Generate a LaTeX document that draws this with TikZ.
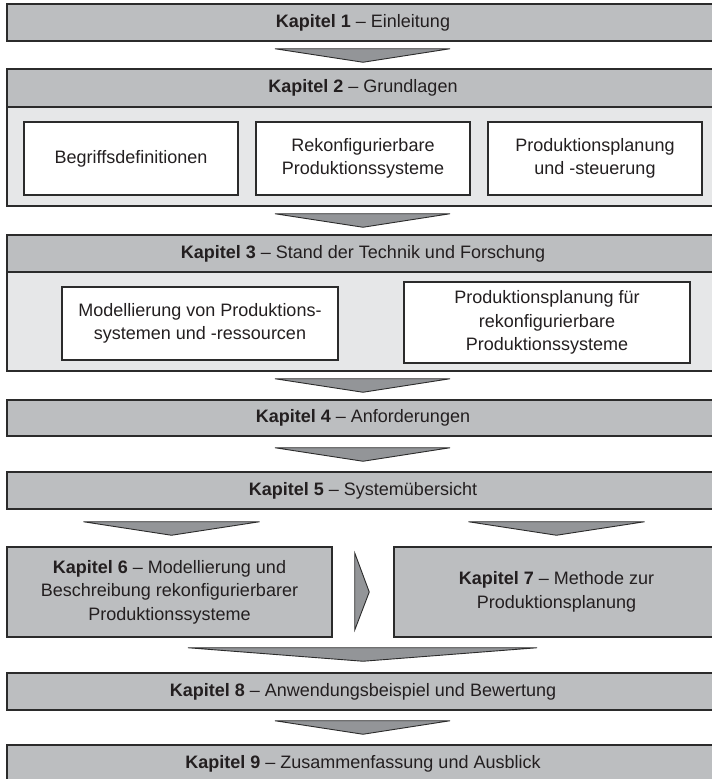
\documentclass[tikz,border=0pt]{standalone}
\usepackage{fontspec}
\setmainfont{Liberation Sans}
\usetikzlibrary{calc}

\definecolor{kopfgrau}{HTML}{BCBEC0}
\definecolor{feldgrau}{HTML}{E6E7E8}
\definecolor{pfeilgrau}{HTML}{939598}
\definecolor{linie}{HTML}{2B2B2B}
\definecolor{schrift}{HTML}{231F20}

\begin{document}
\begin{tikzpicture}[x=1pt, y=-1pt, text=schrift,
    font=\fontsize{18}{23.5}\selectfont,
    kapitel/.style={draw=linie, line width=1.5pt, fill=kopfgrau, minimum width=712pt,
        minimum height=37pt, inner sep=0pt, align=center},
    feld/.style={draw=linie, line width=1.5pt, fill=feldgrau, minimum width=712pt, inner sep=0pt},
    inhalt/.style={draw=linie, line width=1.5pt, fill=white, inner sep=0pt, align=center},
    pfeil/.style={draw=linie, line width=0.9pt, fill=pfeilgrau, line join=miter}]

    % Rand: 712 x 779 (1pt = 1px)
    \useasboundingbox (0,0) rectangle (712,779);

    % Kapitel 1
    \node[kapitel] (k1) at (363,22.5) {\textbf{Kapitel 1} – Einleitung};

    % Kapitel 2 mit Feld
    \node[feld, minimum height=137pt] (f2) at (363,137.5) {};
    \node[kapitel, minimum height=38pt] (k2) at (363,88) {\textbf{Kapitel 2} – Grundlagen};
    \node[inhalt, minimum width=214pt, minimum height=73pt] (begriffe) at (131,158.5)
        {Begriffsdefinitionen};
    \node[inhalt, minimum width=214pt, minimum height=73pt] (rps) at (363,158.5)
        {Rekonfigurierbare\\Produktionssysteme};
    \node[inhalt, minimum width=214pt, minimum height=73pt] (pps) at (595,158.5)
        {Produktionsplanung\\und -steuerung};

    % Kapitel 3 mit Feld
    \node[feld, minimum height=136pt] (f3) at (363,303) {};
    \node[kapitel] (k3) at (363,253.5) {\textbf{Kapitel 3} – Stand der Technik und Forschung};
    \node[inhalt, minimum width=276pt, minimum height=73pt] (modell) at (200,323.5)
        {Modellierung von Produktions-\\systemen und -ressourcen};
    \node[inhalt, minimum width=286pt, minimum height=81pt] (planung) at (547,322.5)
        {Produktionsplanung für\\rekonfigurierbare\\Produktionssysteme};

    % Kapitel 4 und 5
    \node[kapitel, minimum height=36pt] (k4) at (363,418) {\textbf{Kapitel 4} – Anforderungen};
    \node[kapitel] (k5) at (363,490.5) {\textbf{Kapitel 5} – Systemübersicht};

    % Kapitel 6 und 7 nebeneinander
    \node[kapitel, minimum width=325pt, minimum height=90pt] (k6) at (169.5,592)
        {\textbf{Kapitel 6} – Modellierung und\\Beschreibung rekonfigurierbarer\\Produktionssysteme};
    \node[kapitel, minimum width=325pt, minimum height=90pt] (k7) at (556.5,592)
        {\textbf{Kapitel 7} – Methode zur\\Produktionsplanung};

    % Kapitel 8 und 9
    \node[kapitel] (k8) at (363,691.5) {\textbf{Kapitel 8} – Anwendungsbeispiel und Bewertung};
    \node[kapitel, minimum height=38pt] (k9) at (363,764) {\textbf{Kapitel 9} – Zusammenfassung und Ausblick};

    % Pfeile
    \draw[pfeil] ($(k1.south)+(-88,7)$) -- ($(k1.south)+(87,7)$) -- ($(k2.north)+(0,-6)$) -- cycle;
    \draw[pfeil] ($(f2.south)+(-88,7)$) -- ($(f2.south)+(87,7)$) -- ($(k3.north)+(0,-7)$) -- cycle;
    \draw[pfeil] ($(f3.south)+(-88,7)$) -- ($(f3.south)+(87,7)$) -- ($(k4.north)+(0,-7)$) -- cycle;
    \draw[pfeil] ($(k4.south)+(-88,11)$) -- ($(k4.south)+(87,11)$) -- ($(k5.north)+(0,-10)$) -- cycle;
    \draw[pfeil] ($(k6.north |- k5.south)+(-86,12)$) -- ($(k6.north |- k5.south)+(90,12)$)
        -- ($(k6.north)+(2,-11)$) -- cycle;
    \draw[pfeil] ($(k7.north |- k5.south)+(-88,12)$) -- ($(k7.north |- k5.south)+(88,12)$)
        -- ($(k7.north)+(0,-11)$) -- cycle;
    \draw[pfeil] ($(k6.east)+(22,-39)$) -- ($(k6.east)+(22,38)$) -- ($(k7.west)+(-24,0)$) -- cycle;
    \draw[pfeil] ($(k6.south -| k8.north)+(-175,10)$) -- ($(k7.south -| k8.north)+(174,10)$)
        -- ($(k8.north)+(0,-11)$) -- cycle;
    \draw[pfeil] ($(k8.south)+(-88,10)$) -- ($(k8.south)+(87,10)$) -- ($(k9.north)+(0,-10)$) -- cycle;

\end{tikzpicture}
\end{document}
